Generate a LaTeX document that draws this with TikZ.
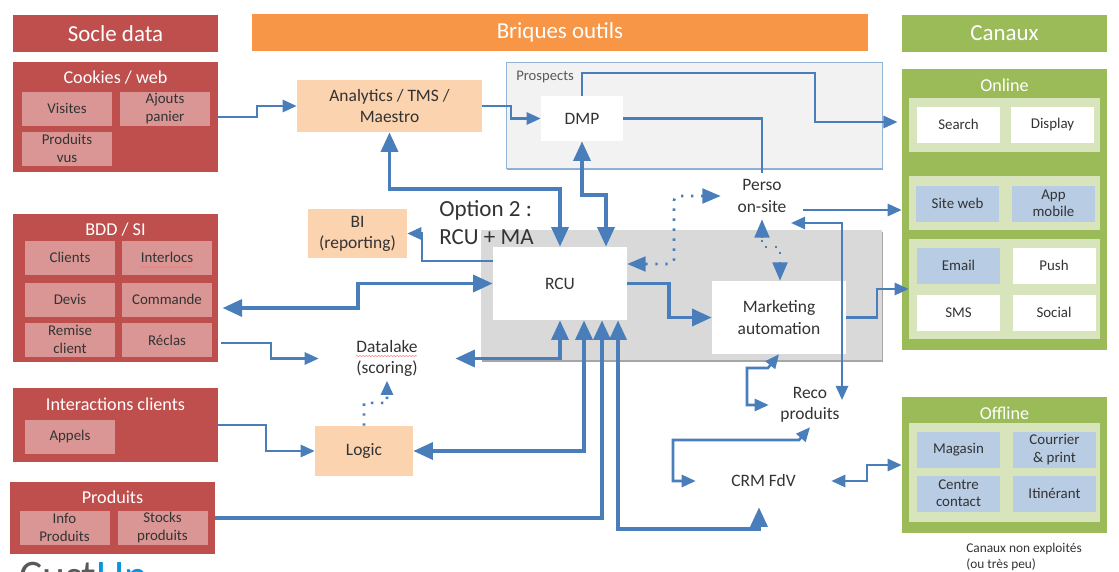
\documentclass[tikz,border=0pt]{standalone}
\usepackage{fontspec}
\setmainfont{Carlito}
\usetikzlibrary{arrows.meta,shadows,decorations.pathmorphing}
\definecolor{redhead}{HTML}{BE4F4D}
\definecolor{redsub}{HTML}{D99694}
\definecolor{orangehead}{HTML}{F79646}
\definecolor{orangebox}{HTML}{FBD3AE}
\definecolor{greenhead}{HTML}{9BBB59}
\definecolor{greenpanel}{HTML}{D8E4BC}
\definecolor{bluebox}{HTML}{B8CCE4}
\definecolor{linkblue}{HTML}{4A7EBB}
\definecolor{inktext}{HTML}{333333}
\tikzset{
  sized/.style 2 args={minimum width=#1*0.025cm,minimum height=#2*0.025cm,inner sep=0pt,align=center},
  headbox/.style={fill=#1,text=white,font=\fontsize{16.3}{18}\selectfont},
  groupbox/.style={fill=#1},
  grouptitle/.style={text=white,font=\fontsize{12.9}{14}\selectfont,inner sep=0pt},
  subred/.style={sized={90}{34},fill=redsub,text=inktext,font=\fontsize{10.6}{12.8}\selectfont},
  subchan/.style={sized={83}{36},fill=#1,text=inktext,font=\fontsize{10.6}{12.2}\selectfont},
  toolbox/.style={fill=#1,text=inktext,font=\fontsize{12.4}{15}\selectfont},
  plainlabel/.style={text=inktext,font=\fontsize{12.4}{15}\selectfont},
  bigtip/.tip={Triangle[length=14pt,width=12pt]},
  midtip/.tip={Triangle[length=10pt,width=8.6pt]},
  dottip/.tip={Triangle[length=13pt,width=10.5pt]},
  thinlink/.style={draw=linkblue,line width=1.8pt},
  thicklink/.style={draw=linkblue,line width=2.8pt},
  dotlink/.style={draw=linkblue,line width=1.8pt,dash pattern=on 1.7pt off 5.4pt},
  spellmark/.style={draw=red!55,line width=0.35pt,decorate,decoration={snake,amplitude=0.4pt,segment length=2.2pt}}
}
\begin{document}
\begin{tikzpicture}[x=0.025cm,y=-0.025cm]
  \clip (0,0) rectangle (1119,572);

  % Column heads
  \node (soclehead) [headbox=redhead,sized={205}{37}] at (115.5,33.5) {Socle data};
  \node (briqueshead) [headbox=orangehead,sized={616}{37}] at (560,32.5) {Briques outils};
  \node (canauxhead) [headbox=greenhead,sized={205}{37}] at (1004.5,33.5) {Canaux};

  % Cookies / web
  \node (cookies) [groupbox=redhead,sized={205}{110}] at (115.5,117) {};
  \node (cookiestitle) [grouptitle] at (115.5,78) {Cookies / web};
  \node (visites) [subred] at (67,108.5) {Visites};
  \node (ajouts) [subred] at (165,109) {Ajouts\\panier};
  \node (vus) [subred] at (67,148.5) {Produits\\vus};

  % BDD / SI
  \node (bdd) [groupbox=redhead,sized={205}{148}] at (115.5,288) {};
  \node (bddtitle) [grouptitle] at (115.5,230) {BDD / SI};
  \node (clients) [subred] at (70,257.5) {Clients};
  \node (interlocs) [subred] at (167,257.5) {Interlocs};
  \node (devis) [subred] at (70,299.5) {Devis};
  \node (commande) [subred] at (167,299.5) {Commande};
  \node (remise) [subred] at (70,339.5) {Remise\\client};
  \node (reclas) [subred] at (167,340) {Réclas};
  \draw [spellmark] (140,267) -- (193,267);

  % Interactions clients
  \node (interactions) [groupbox=redhead,sized={205}{74}] at (115.5,425) {};
  \node (interactionstitle) [grouptitle] at (115.5,404) {Interactions clients};
  \node (appels) [subred] at (70,436.5) {Appels};

  % Produits
  \node (produits) [groupbox=redhead,sized={205}{72}] at (112.5,518) {};
  \node (produitstitle) [grouptitle] at (112.5,497) {Produits};
  \node (info) [subred] at (64.5,527.5) {Info\\Produits};
  \node (stocks) [subred] at (162.5,527.5) {Stocks\\produits};

  % Logo, cut by the page
  \node (logo) [anchor=base west,inner sep=0pt,font=\fontsize{31}{31}\selectfont] at (19,590)
    {\textcolor{black!65}{Cust}\textcolor{cyan!80!blue}{Up}};

  % Tool areas
  \node (prospects) [sized={376}{106},fill=black!5,draw=linkblue!60,line width=0.7pt,
    drop shadow={shadow xshift=0.6pt,shadow yshift=-1.1pt,opacity=0.7}] at (694,115) {};
  \node (prospectslabel) [anchor=west,inner sep=0pt,text=black!65,font=\fontsize{10.4}{12}\selectfont] at (516,77) {Prospects};
  \node (optionzone) [sized={401}{130},fill=black!15,
    drop shadow={shadow xshift=0.6pt,shadow yshift=-1.1pt,opacity=0.7}] at (681.5,295) {};

  % Tools
  \node (analytics) [toolbox=orangebox,sized={185}{52}] at (389.5,106) {Analytics / TMS /\\Maestro};
  \node (bi) [toolbox=orangebox,sized={99}{49}] at (357.5,233.5) {BI\\(reporting)};
  \node (logic) [toolbox=orangebox,sized={98}{50}] at (364,451) {Logic};
  \node (dmp) [toolbox=white,sized={82}{45}] at (582,118.5) {DMP};
  \node (rcu) [toolbox=white,sized={134}{73}] at (560,283.5) {RCU};
  \node (ma) [toolbox=white,sized={134}{73}] at (779,317.5) {Marketing\\automation};
  \node (datalake) [plainlabel,sized={136}{44}] at (387,358.5) {Datalake\\(scoring)};
  \draw [spellmark] (356,356) -- (417,356);
  \node (perso) [plainlabel,sized={82}{46}] at (762,196) {Perso\\on-site};
  \node (reco) [plainlabel,sized={82}{44}] at (810,405) {Reco\\produits};
  \node (crm) [plainlabel,sized={135}{52}] at (763.5,481) {CRM FdV};
  \node (option) [anchor=north west,inner sep=0pt,align=left,text=inktext,font=\fontsize{16.4}{20}\selectfont] at (439,200) {Option 2 :\\RCU + MA};

  % Online
  \node (online) [groupbox=greenhead,sized={205}{281}] at (1004.5,209.5) {};
  \node (onlinetitle) [grouptitle] at (1004.5,85) {Online};
  \node (panelsearch) [groupbox=greenpanel,sized={191}{54}] at (1004.5,125) {};
  \node (panelsite) [groupbox=greenpanel,sized={191}{54}] at (1004.5,203) {};
  \node (panelcrm) [groupbox=greenpanel,sized={191}{100}] at (1004.5,289) {};
  \node (search) [subchan=white] at (958.5,124.5) {Search};
  \node (display) [subchan=white] at (1052.5,124.5) {Display};
  \node (siteweb) [subchan=bluebox] at (957.5,203.5) {Site web};
  \node (app) [subchan=bluebox] at (1053.5,203.5) {App\\mobile};
  \node (email) [subchan=bluebox] at (958.5,265.5) {Email};
  \node (push) [subchan=white] at (1054,265.5) {Push};
  \node (sms) [subchan=white] at (958.5,312.5) {SMS};
  \node (social) [subchan=white] at (1054,312.5) {Social};

  % Offline
  \node (offline) [groupbox=greenhead,sized={205}{136}] at (1004.5,465) {};
  \node (offlinetitle) [grouptitle] at (1004.5,413) {Offline};
  \node (paneloffline) [groupbox=greenpanel,sized={191}{99}] at (1004.5,472.5) {};
  \node (magasin) [subchan=bluebox] at (958.5,449.5) {Magasin};
  \node (courrier) [subchan=bluebox] at (1054.5,449.5) {Courrier\\\& print};
  \node (centre) [subchan=bluebox] at (958.5,493.5) {Centre\\contact};
  \node (itinerant) [subchan=bluebox] at (1054.5,493.5) {Itinérant};
  \node (caption) [anchor=north west,inner sep=0pt,align=left,text=inktext,font=\fontsize{9.5}{11.4}\selectfont] at (966,543) {Canaux non exploités\\(ou très peu)};

  % Free ends of the links
  \coordinate (persoin) at (791,223);
  \coordinate (recoin) at (842,400);

  % Drawing link cookies analytics
  \draw [thinlink,-midtip] (cookies.east) -- (257,117) |- (analytics.west);
  % Drawing link analytics dmp
  \draw [thinlink,-midtip] (analytics.east) -- (511,106) |- (dmp.west);
  % Drawing link dmp online
  \draw [thinlink,-midtip,shorten >=3pt] (dmp.north) -- (582,73) -- (815,73) |- (online.west |- 0,122);
  % Drawing link dmp perso
  \draw [thinlink] (dmp.east) -| (perso.north);
  % Drawing link dmp rcu
  \draw [thicklink,bigtip-bigtip] (dmp.south) -- (582,195) -- (606,195) -- (606,0 |- rcu.north);
  % Drawing link analytics rcu
  \draw [thicklink,bigtip-bigtip] (analytics.south) -- (389.5,189) -| (rcu.north);
  % Drawing link rcu bi
  \draw [thinlink,-midtip] (rcu.west |- 0,261) -- (422,261) |- (bi.east);
  % Drawing link bdd rcu
  \draw [thicklink,bigtip-bigtip,shorten <=3pt] (bdd.east |- 0,308) -- (358,308) |- (rcu.west);
  % Drawing link bdd datalake
  \draw [thinlink,-midtip,shorten <=2pt] (bdd.east |- 0,343) -- (271,343) |- (datalake.west);
  % Drawing link interactions logic
  \draw [thinlink,-midtip] (interactions.east) -- (266,425) |- (logic.west);
  % Drawing link logic datalake
  \draw [dotlink] (logic.north) -- ++(0,-23) -- (387,403) -- (387,392);
  \draw [thinlink,-midtip] (387,393) -- (datalake.south);
  % Drawing link datalake rcu
  \draw [thicklink,bigtip-bigtip] (datalake.east) -- (560,358.5) -- (rcu.south);
  % Drawing link logic rcu
  \draw [thicklink,bigtip-bigtip] (logic.east) -| (584,0 |- rcu.south);
  % Drawing link produits rcu
  \draw [thicklink,-bigtip] (produits.east) -| (602,0 |- rcu.south);
  % Drawing link rcu crm
  \draw [thicklink,bigtip-bigtip] (618,0 |- rcu.south) |- (759,529) -- (759,0 |- crm.south);
  % Drawing link rcu ma
  \draw [thicklink,-bigtip] (rcu.east) -- (669,283.5) |- (ma.west);
  % Drawing link perso rcu
  \draw [dotlink,rounded corners=3pt] (rcu.east |- 0,264) ++(18,0) -- (674,264) -- (674,196) -- (705,196);
  \draw [thinlink,-dottip] (704,196) -- (perso.west);
  \draw [thinlink,-dottip] (645,264) -- (rcu.east |- 0,264);
  % Drawing link perso ma
  \draw [dotlink] (762,240) -- (762,247) -- (780,247) -- (780,262);
  \draw [thinlink,-dottip] (762,237) -- (perso.south);
  \draw [thinlink,-dottip] (780,262) -- (780,0 |- ma.north);
  % Drawing link perso online
  \draw [thinlink,-midtip] (perso.east |- 0,210) -- (online.west |- 0,210);
  % Drawing link perso reco
  \draw [thinlink,midtip-midtip] (persoin) -- (842,223) -- (recoin);
  % Drawing link ma online
  \draw [thinlink,-midtip] (ma.east) -- (877,317.5) |- (panelcrm.west);
  % Drawing link ma reco
  \draw [thinlink,midtip-midtip] (ma.south) -- (768,368) -- (747,368) |- (reco.west);
  % Drawing link reco crm
  \draw [thinlink,midtip-midtip] (reco.south) -- (799,440) -- (673,440) |- (crm.west);
  % Drawing link crm offline
  \draw [thinlink,midtip-midtip] (crm.east) -- (867,481) |- (offline.west);
\end{tikzpicture}
\end{document}
